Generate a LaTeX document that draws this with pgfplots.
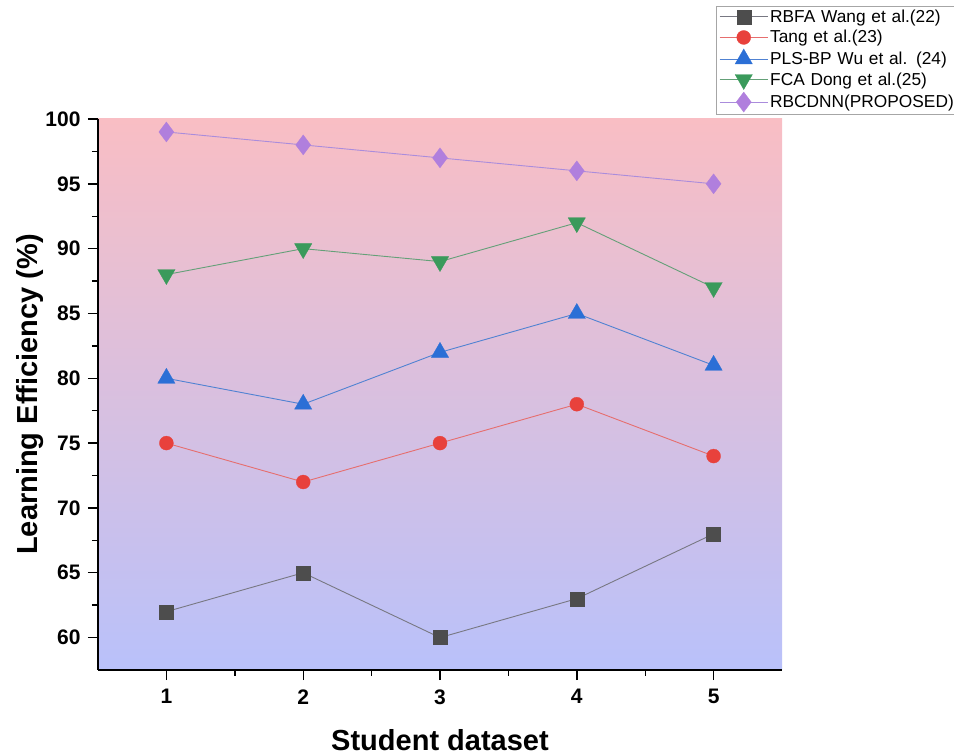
\documentclass[border=0pt]{standalone}
\usepackage{fontspec}
\setmainfont{Liberation Sans}
\usepackage{pgfplots}
\pgfplotsset{compat=1.18}
\definecolor{pinkbg}{RGB}{249,190,196}
\definecolor{bluebg}{RGB}{185,193,250}
\definecolor{cA}{RGB}{77,77,77}
\definecolor{cAl}{RGB}{120,120,130}
\definecolor{cB}{RGB}{232,65,60}
\definecolor{cBl}{RGB}{230,110,110}
\definecolor{cC}{RGB}{43,111,214}
\definecolor{cCl}{RGB}{80,130,210}
\definecolor{cD}{RGB}{58,154,91}
\definecolor{cDl}{RGB}{100,160,120}
\definecolor{cE}{RGB}{176,127,221}
\definecolor{cEl}{RGB}{170,140,220}
\begin{document}
\begin{tikzpicture}
\useasboundingbox (0,0) rectangle (954pt,755pt);
\begin{axis}[
  at={(98pt,85pt)}, anchor=south west,
  scale only axis, width=684pt, height=551pt,
  xmin=0.5, xmax=5.5, ymin=57.5, ymax=100,
  axis x line*=bottom, axis y line*=left,
  axis line style={line width=1.6pt, -},
  xtick={1,2,3,4,5}, ytick={60,65,...,100},
  minor x tick num=1, minor y tick num=1,
  tick align=outside,
  major tick length=10pt, minor tick length=6pt,
  every tick/.style={black, line width=1.4pt},
  tick label style={font=\fontsize{21}{24}\selectfont\bfseries},
  /pgf/number format/assume math mode=true,
  xticklabel style={yshift=-6pt},
  yticklabel style={xshift=-4pt},
  axis background/.style={top color=pinkbg, bottom color=bluebg},
  every axis y label/.style={at={(axis description cs:-0.0994,0.5)}, rotate=90, anchor=center},
  every axis x label/.style={at={(axis description cs:0.5,-0.127)}, anchor=center},
  label style={font=\fontsize{29}{32}\selectfont\bfseries},
  xlabel={Student dataset},
  ylabel={Learning Efficiency (\%)},
  legend style={at={(axis description cs:0.9035,1.2058)}, anchor=north west,
    draw=gray!70, line width=0.6pt, fill=white,
    font=\fontsize{17.3}{19}\selectfont, row sep=2.5pt, inner xsep=3pt, inner ysep=2pt,
    text width=200pt},
  legend cell align=left,
  legend image code/.code={\draw[mark repeat=2,mark phase=2] plot coordinates {(0pt,0pt) (24pt,0pt) (48pt,0pt)};},
  clip=false,
]
\addplot[cAl, line width=0.9pt, mark=square*, mark size=7pt, mark options={fill=cA, draw=cA, line width=0.3pt}]
  coordinates {(1,62) (2,65) (3,60) (4,63) (5,68)};
\addlegendentry{RBFA Wang et al.(22)}
\addplot[cBl, line width=0.9pt, mark=*, mark size=7pt, mark options={fill=cB, draw=cB, line width=0.3pt}]
  coordinates {(1,75) (2,72) (3,75) (4,78) (5,74)};
\addlegendentry{Tang et al.(23)}
\addplot[cCl, line width=0.9pt, mark=triangle*, mark size=10pt, mark options={fill=cC, draw=cC, line width=0.3pt}]
  coordinates {(1,80) (2,78) (3,82) (4,85) (5,81)};
\addlegendentry{PLS-BP Wu et al. (24)}
\addplot[cDl, line width=0.9pt, mark=triangle*, mark size=10pt, mark options={fill=cD, draw=cD, line width=0.3pt, rotate=180}]
  coordinates {(1,88) (2,90) (3,89) (4,92) (5,87)};
\addlegendentry{FCA Dong et al.(25)}
\addplot[cEl, line width=0.9pt, mark=diamond*, mark size=10pt, mark options={fill=cE, draw=cE, line width=0.3pt}]
  coordinates {(1,99) (2,98) (3,97) (4,96) (5,95)};
\addlegendentry{RBCDNN(PROPOSED)}
\end{axis}
\end{tikzpicture}
\end{document}
